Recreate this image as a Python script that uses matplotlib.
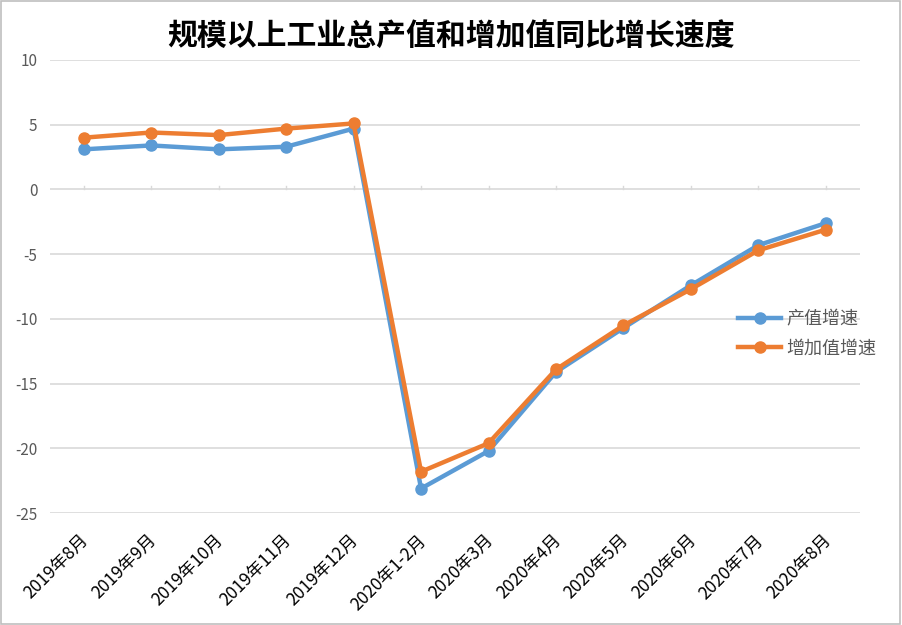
import matplotlib.pyplot as plt
from matplotlib.patches import Rectangle

plt.rcParams['font.family'] = ['Noto Sans CJK SC', 'DejaVu Sans']

# --- Data ---
months = ['2019年8月', '2019年9月', '2019年10月', '2019年11月', '2019年12月',
          '2020年1-2月', '2020年3月', '2020年4月', '2020年5月', '2020年6月',
          '2020年7月', '2020年8月']
output_growth = [3.1, 3.4, 3.1, 3.3, 4.7, -23.1, -20.2, -14.1, -10.7, -7.4, -4.3, -2.6]
added_growth = [4.0, 4.4, 4.2, 4.7, 5.1, -21.8, -19.6, -13.9, -10.5, -7.7, -4.7, -3.1]
y_ticks = [10, 5, 0, -5, -10, -15, -20, -25]

BLUE = '#5B9BD5'
ORANGE = '#ED7D31'
GRID = '#D9D9D9'

fig = plt.figure(figsize=(9.02, 6.25), dpi=100)
ax = fig.add_axes([0.0554, 0.179, 0.8976, 0.725])

x = list(range(len(months)))
ax.plot(x, output_growth, color=BLUE, lw=3.2, marker='o', markersize=8,
        label='产值增速', zorder=3, solid_joinstyle='round')
ax.plot(x, added_growth, color=ORANGE, lw=3.2, marker='o', markersize=8,
        label='增加值增速', zorder=4, solid_joinstyle='round')

ax.set_xlim(-0.5, len(months) - 0.5)
ax.set_ylim(-25, 10)
ax.set_yticks(y_ticks)
ax.set_yticklabels([str(v) for v in y_ticks], color='#595959', fontsize=11)
ax.grid(axis='y', color=GRID, lw=1.2)
ax.set_axisbelow(True)
ax.tick_params(axis='y', length=0, pad=9)

for s in ax.spines.values():
    s.set_visible(False)

# category axis sits at zero, small tick marks pointing up
ax.set_xticks(x)
ax.set_xticklabels([])
ax.tick_params(axis='x', length=0)
for xi in x:
    ax.plot([xi, xi], [0, 0.3], color=GRID, lw=1, zorder=1)

# rotated month labels below the plot
for xi, lab in zip(x, months):
    ax.annotate(lab, xy=(xi, -25), xycoords='data', xytext=(-3, -13),
                textcoords='offset points', rotation=45, ha='right', va='top',
                rotation_mode='anchor', fontsize=12.5, color='black')

leg = ax.legend(loc='center left', bbox_to_anchor=(0.818, 0.466),
                bbox_transform=fig.transFigure, frameon=False, fontsize=13,
                handlelength=2.4, handletextpad=0.3, labelspacing=0.62,
                borderpad=0, borderaxespad=0)
for t in leg.get_texts():
    t.set_color('#595959')

fig.text(0.5, 0.943, '规模以上工业总产值和增加值同比增长速度', ha='center', va='center',
         fontsize=21.5, fontweight='bold', color='black')

fig.patches.append(Rectangle((0.001, 0.002), 0.997, 0.996, transform=fig.transFigure,
                             fill=False, edgecolor='#BFBFBF', lw=1.2))

fig.savefig('out.png', dpi=100)
